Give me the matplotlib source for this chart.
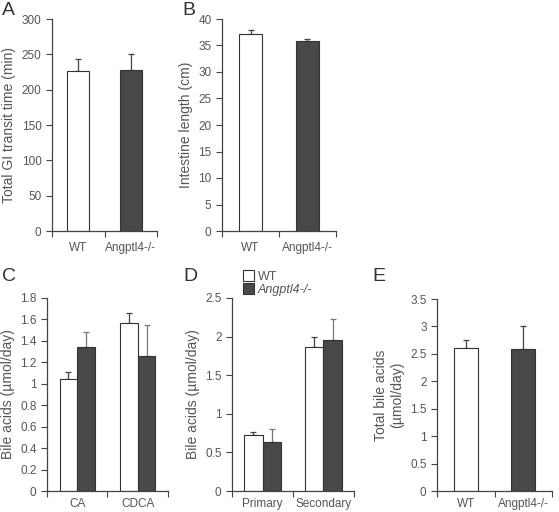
import numpy as np
import matplotlib.pyplot as plt

plt.rcParams['font.family'] = ['Liberation Sans', 'DejaVu Sans']

W, H = 559, 512
WHITE = 'white'
DARK = '#484848'
TEXT = '#555555'
AXIS = '#444444'

# panel A
a_cats = ['WT', 'Angptl4-/-']
a_vals = [226, 228]
a_err = [18, 23]
# panel B
b_cats = ['WT', 'Angptl4-/-']
b_vals = [37.2, 35.85]
b_err = [0.8, 0.45]
# panel C
c_cats = ['CA', 'CDCA']
c_wt = [1.04, 1.57]
c_wt_err = [0.07, 0.09]
c_ko = [1.34, 1.26]
c_ko_err = [0.14, 0.29]
# panel D
d_cats = ['Primary', 'Secondary']
d_wt = [0.73, 1.87]
d_wt_err = [0.04, 0.12]
d_ko = [0.64, 1.96]
d_ko_err = [0.16, 0.27]
# panel E
e_cats = ['WT', 'Angptl4-/-']
e_vals = [2.61, 2.59]
e_err = [0.15, 0.42]


def make_ax(fig, x0, x1, y0, y1):
    return fig.add_axes([x0 / W, (H - y1) / H, (x1 - x0) / W, (y1 - y0) / H])


def style(ax, cats, ymax, ystep, ylabel, fmt=None, xpad=8):
    n = len(cats)
    ax.set_xlim(0, n)
    ax.set_ylim(0, ymax)
    for s in ['top', 'right']:
        ax.spines[s].set_visible(False)
    for s in ['left', 'bottom']:
        ax.spines[s].set_color(AXIS)
        ax.spines[s].set_linewidth(0.9)
    ax.set_xticks(np.arange(n + 1))
    ax.set_xticklabels([])
    ax.set_xticks(np.arange(n) + 0.5, minor=True)
    ax.set_xticklabels(cats, minor=True, fontsize=8.5, color=TEXT)
    ax.tick_params(axis='x', which='major', length=4, direction='out', color=AXIS)
    ax.tick_params(axis='x', which='minor', length=0, pad=xpad)
    ticks = np.arange(0, ymax + ystep / 2, ystep)
    ax.set_yticks(ticks)
    if fmt is not None:
        ax.set_yticklabels([fmt(t) for t in ticks])
    ax.tick_params(axis='y', length=4, direction='out', color=AXIS, labelsize=8.5, labelcolor=TEXT)
    ax.set_ylabel(ylabel, fontsize=10, color=TEXT)


def gfmt(t):
    return ('%g' % round(t, 2))


def single_bars(ax, vals, err, width):
    x = np.arange(len(vals)) + 0.5
    ax.bar(x, vals, width=width, color=[WHITE, DARK], edgecolor='#333333', linewidth=0.8, zorder=2)
    ax.errorbar(x, vals, yerr=[np.zeros(len(err)), err], fmt='none', ecolor='#444444',
                elinewidth=0.9, capsize=2.5, capthick=0.9, zorder=1)


def paired_bars(ax, wt, wt_err, ko, ko_err, width):
    x = np.arange(len(wt)) + 0.5
    ax.bar(x - width / 2, wt, width=width, color=WHITE, edgecolor='#333333', linewidth=0.8, zorder=2, label='WT')
    ax.bar(x + width / 2, ko, width=width, color=DARK, edgecolor='#333333', linewidth=0.8, zorder=2, label='Angptl4-/-')
    ax.errorbar(x - width / 2, wt, yerr=[np.zeros(len(wt_err)), wt_err], fmt='none', ecolor='#444444',
                elinewidth=0.9, capsize=2.5, capthick=0.9, zorder=1)
    ax.errorbar(x + width / 2, ko, yerr=[np.zeros(len(ko_err)), ko_err], fmt='none', ecolor='#777777',
                elinewidth=0.9, capsize=2.5, capthick=0.9, zorder=1)


fig = plt.figure(figsize=(W / 100, H / 100), dpi=100)

axA = make_ax(fig, 52, 157, 19, 231)
single_bars(axA, a_vals, a_err, 0.42)
style(axA, a_cats, 300, 50, 'Total GI transit time (min)')

axB = make_ax(fig, 222, 336, 19, 231)
single_bars(axB, b_vals, b_err, 0.42)
style(axB, b_cats, 40, 5, 'Intestine length (cm)')

axC = make_ax(fig, 47, 168, 298, 491)
paired_bars(axC, c_wt, c_wt_err, c_ko, c_ko_err, 0.29)
style(axC, c_cats, 1.8, 0.2, 'Bile acids (µmol/day)', gfmt, xpad=5)

axD = make_ax(fig, 232, 354, 298, 491)
paired_bars(axD, d_wt, d_wt_err, d_ko, d_ko_err, 0.3)
style(axD, d_cats, 2.5, 0.5, 'Bile acids (µmol/day)', gfmt, xpad=5)
leg = axD.legend(loc='upper left', bbox_to_anchor=(0.05, 1.17), frameon=False, fontsize=9,
                 handlelength=0.9, handleheight=0.9, handletextpad=0.3, labelspacing=0.05,
                 borderaxespad=0)
for t in leg.get_texts():
    t.set_color(TEXT)
leg.get_texts()[1].set_style('italic')

axE = make_ax(fig, 437, 552, 299, 491)
single_bars(axE, e_vals, e_err, 0.42)
style(axE, e_cats, 3.5, 0.5, 'Total bile acids\n(µmol/day)', gfmt, xpad=5)

for lab, x, y in [('A', 2, 2), ('B', 182, 2), ('C', 2, 268), ('D', 183, 268), ('E', 372, 268)]:
    fig.text(x / W, 1 - y / H, lab, fontsize=14, color='#333333', va='top', ha='left')

fig.savefig('out.png', dpi=100, facecolor='white')
